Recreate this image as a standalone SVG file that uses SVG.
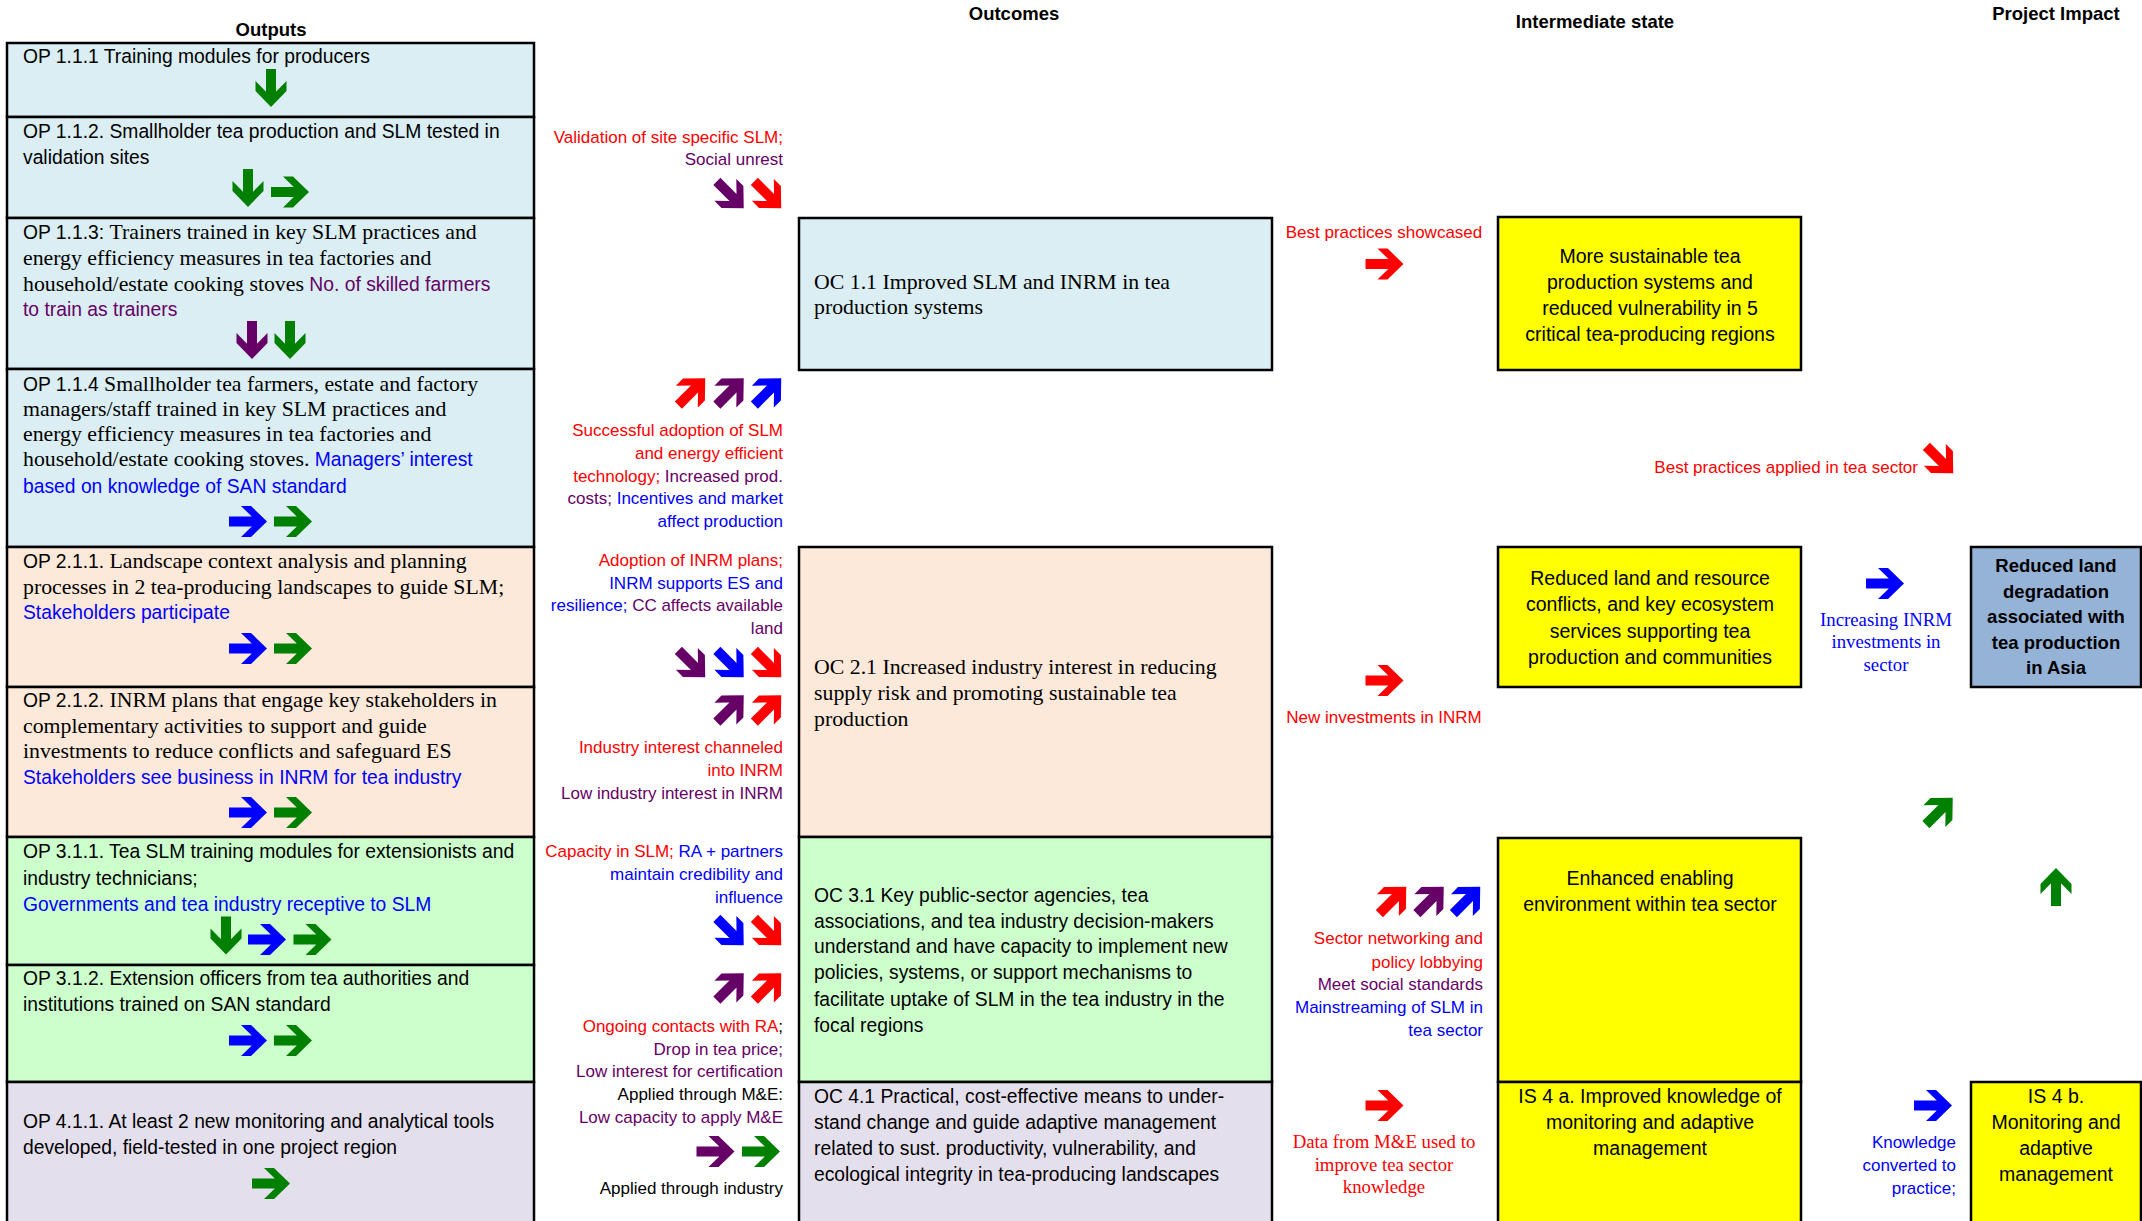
<svg xmlns="http://www.w3.org/2000/svg" xmlns:xlink="http://www.w3.org/1999/xlink" width="2142" height="1221" viewBox="0 0 2142 1221">
<style>
.bx{stroke:#000;stroke-width:2.5}
.c1{fill:#DAEEF3}.c2{fill:#FDE9D9}.c3{fill:#CCFFCC}.c4{fill:#E4DFEC}.cy{fill:#FFFF00}.ci{fill:#95B3D7}
text{font-family:"Liberation Sans",Arial,sans-serif;fill:#000}
.os{font-family:"Liberation Sans",Arial,sans-serif;font-size:19.3px}
.or{font-family:"Liberation Serif","Times New Roman",serif;font-size:21.8px}
.lb{font-family:"Liberation Sans",Arial,sans-serif;font-size:17px}
.ls{font-family:"Liberation Serif","Times New Roman",serif;font-size:18.8px}
.is{font-family:"Liberation Sans",Arial,sans-serif;font-size:19.5px}
.hd{font-family:"Liberation Sans",Arial,sans-serif;font-size:18.5px;font-weight:bold}
.e{text-anchor:end}.m{text-anchor:middle}
.r{fill:#FF0000}.p{fill:#660066}.b{fill:#0000FF}.k{fill:#000}.g{fill:#008000}
</style>
<defs>
<path id="ar" d="M-19,-5 H3.8 L-7,-15.5 H3 L19,0 L3,15.5 H-7 L3.8,5 H-19 Z"/>
</defs>

<g id="headers">
<text class="hd m" x="271" y="36">Outputs</text>
<text class="hd m" x="1014" y="20">Outcomes</text>
<text class="hd m" x="1595" y="28">Intermediate state</text>
<text class="hd m" x="2056" y="20">Project Impact</text>
</g>

<g id="op111"><rect class="bx c1" x="7" y="43" width="527" height="74"/>
<text x="23" y="63" class="os">OP 1.1.1 Training modules for producers</text></g>

<g id="op112"><rect class="bx c1" x="7" y="117" width="527" height="101"/>
<text x="23" y="138" class="os">OP 1.1.2. Smallholder tea production and SLM tested in</text>
<text x="23" y="164" class="os">validation sites</text></g>

<g id="op113"><rect class="bx c1" x="7" y="218" width="527" height="151"/>
<text x="23" y="239"><tspan class="os">OP 1.1.3: </tspan><tspan class="or">Trainers trained in key SLM practices and</tspan></text>
<text x="23" y="265" class="or">energy efficiency measures in tea factories and</text>
<text x="23" y="291"><tspan class="or">household/estate cooking stoves </tspan><tspan class="os p">No. of skilled farmers</tspan></text>
<text x="23" y="316" class="os p">to train as trainers</text></g>

<g id="op114"><rect class="bx c1" x="7" y="369" width="527" height="178"/>
<text x="23" y="391"><tspan class="os">OP 1.1.4 </tspan><tspan class="or">Smallholder tea farmers, estate and factory</tspan></text>
<text x="23" y="416" class="or">managers/staff trained in key SLM practices and</text>
<text x="23" y="441" class="or">energy efficiency measures in tea factories and</text>
<text x="23" y="466"><tspan class="or">household/estate cooking stoves.  </tspan><tspan class="os b">Managers’ interest</tspan></text>
<text x="23" y="493" class="os b">based on knowledge of SAN standard</text></g>

<g id="op211"><rect class="bx c2" x="7" y="547" width="527" height="140"/>
<text x="23" y="568"><tspan class="os">OP 2.1.1. </tspan><tspan class="or">Landscape context analysis and planning</tspan></text>
<text x="23" y="594" class="or">processes in 2 tea-producing landscapes to guide SLM;</text>
<text x="23" y="619" class="os b">Stakeholders participate</text></g>

<g id="op212"><rect class="bx c2" x="7" y="687" width="527" height="150"/>
<text x="23" y="707"><tspan class="os">OP 2.1.2. </tspan><tspan class="or">INRM plans that engage key stakeholders in</tspan></text>
<text x="23" y="733" class="or">complementary activities to support and guide</text>
<text x="23" y="758" class="or">investments to reduce conflicts and safeguard ES</text>
<text x="23" y="784" class="os b">Stakeholders see business in INRM for tea industry</text></g>

<g id="op311"><rect class="bx c3" x="7" y="837" width="527" height="128"/>
<text x="23" y="858" class="os">OP 3.1.1. Tea SLM training modules for extensionists and</text>
<text x="23" y="885" class="os">industry technicians;</text>
<text x="23" y="911" class="os b">Governments and tea industry receptive to SLM</text></g>

<g id="op312"><rect class="bx c3" x="7" y="965" width="527" height="117"/>
<text x="23" y="985" class="os">OP 3.1.2. Extension officers from tea authorities and</text>
<text x="23" y="1011" class="os">institutions trained on SAN standard</text></g>

<g id="op411"><rect class="bx c4" x="7" y="1082" width="527" height="150"/>
<text x="23" y="1128" class="os">OP 4.1.1. At least 2 new monitoring and analytical tools</text>
<text x="23" y="1154" class="os">developed, field-tested in one project region</text></g>

<g id="oc11"><rect class="bx c1" x="799" y="218" width="473" height="152"/>
<text x="814" y="289" class="or">OC 1.1 Improved SLM and INRM in tea</text>
<text x="814" y="314" class="or">production systems</text></g>

<g id="oc21"><rect class="bx c2" x="799" y="547" width="473" height="290"/>
<text x="814" y="674" class="or">OC 2.1 Increased industry interest in reducing</text>
<text x="814" y="700" class="or">supply risk and promoting sustainable tea</text>
<text x="814" y="726" class="or">production</text></g>

<g id="oc31"><rect class="bx c3" x="799" y="837" width="473" height="245"/>
<text x="814" y="902" class="os">OC 3.1 Key public-sector agencies, tea</text>
<text x="814" y="928" class="os">associations, and tea industry decision-makers</text>
<text x="814" y="953" class="os">understand and have capacity to implement new</text>
<text x="814" y="979" class="os">policies, systems, or support mechanisms to</text>
<text x="814" y="1006" class="os">facilitate uptake of SLM in the tea industry in the</text>
<text x="814" y="1032" class="os">focal regions</text></g>

<g id="oc41"><rect class="bx c4" x="799" y="1082" width="473" height="150"/>
<text x="814" y="1103" class="os">OC 4.1 Practical, cost-effective means to under-</text>
<text x="814" y="1129" class="os">stand change and guide adaptive management</text>
<text x="814" y="1155" class="os">related to sust. productivity, vulnerability, and</text>
<text x="814" y="1181" class="os">ecological integrity in tea-producing landscapes</text></g>

<g id="is1"><rect class="bx cy" x="1498" y="217" width="303" height="153"/>
<text class="is m" x="1650" y="263">More sustainable tea</text>
<text class="is m" x="1650" y="289">production systems and</text>
<text class="is m" x="1650" y="315">reduced vulnerability in 5</text>
<text class="is m" x="1650" y="341">critical tea-producing regions</text></g>

<g id="is2"><rect class="bx cy" x="1498" y="547" width="303" height="140"/>
<text class="is m" x="1650" y="585">Reduced land and resource</text>
<text class="is m" x="1650" y="611">conflicts, and key ecosystem</text>
<text class="is m" x="1650" y="638">services supporting tea</text>
<text class="is m" x="1650" y="664">production and communities</text></g>

<g id="is3"><rect class="bx cy" x="1498" y="838" width="303" height="244"/>
<text class="is m" x="1650" y="885">Enhanced enabling</text>
<text class="is m" x="1650" y="911">environment within tea sector</text></g>

<g id="is4a"><rect class="bx cy" x="1498" y="1082" width="303" height="150"/>
<text class="is m" x="1650" y="1103">IS 4 a. Improved knowledge of</text>
<text class="is m" x="1650" y="1129">monitoring and adaptive</text>
<text class="is m" x="1650" y="1155">management</text></g>

<g id="impact"><rect class="bx ci" x="1971" y="547" width="170" height="140"/>
<text class="hd m" x="2056" y="572">Reduced land</text>
<text class="hd m" x="2056" y="598">degradation</text>
<text class="hd m" x="2056" y="623">associated with</text>
<text class="hd m" x="2056" y="649">tea production</text>
<text class="hd m" x="2056" y="674">in Asia</text></g>

<g id="is4b"><rect class="bx cy" x="1971" y="1082" width="170" height="150"/>
<text class="is m" x="2056" y="1103">IS 4 b.</text>
<text class="is m" x="2056" y="1129">Monitoring and</text>
<text class="is m" x="2056" y="1155">adaptive</text>
<text class="is m" x="2056" y="1181">management</text></g>

<g id="labels">
<text class="lb e" x="783" y="143"><tspan class="r">Validation of site specific SLM;</tspan></text>
<text class="lb e p" x="783" y="165">Social unrest</text>
<text class="lb e r" x="783" y="436">Successful adoption of SLM</text>
<text class="lb e r" x="783" y="459">and energy efficient</text>
<text class="lb e" x="783" y="482"><tspan class="r">technology; </tspan><tspan class="p">Increased prod.</tspan></text>
<text class="lb e" x="783" y="504"><tspan class="p">costs; </tspan><tspan class="b">Incentives and market</tspan></text>
<text class="lb e b" x="783" y="527">affect production</text>
<text class="lb e r" x="783" y="566">Adoption of INRM plans;</text>
<text class="lb e b" x="783" y="589">INRM supports ES and</text>
<text class="lb e" x="783" y="611"><tspan class="b">resilience; </tspan><tspan class="p">CC affects available</tspan></text>
<text class="lb e p" x="783" y="634">land</text>
<text class="lb e r" x="783" y="753">Industry interest channeled</text>
<text class="lb e r" x="783" y="776">into INRM</text>
<text class="lb e p" x="783" y="799">Low industry interest in INRM</text>
<text class="lb e" x="783" y="857"><tspan class="r">Capacity in SLM; </tspan><tspan class="b">RA + partners</tspan></text>
<text class="lb e b" x="783" y="880">maintain credibility and</text>
<text class="lb e b" x="783" y="903">influence</text>
<text class="lb e" x="783" y="1032"><tspan class="r">Ongoing contacts with RA</tspan><tspan class="k">;</tspan></text>
<text class="lb e p" x="783" y="1055">Drop in tea price;</text>
<text class="lb e p" x="783" y="1077">Low interest for certification</text>
<text class="lb e k" x="783" y="1100">Applied through M&amp;E:</text>
<text class="lb e p" x="783" y="1123">Low capacity to apply M&amp;E</text>
<text class="lb e k" x="783" y="1194">Applied through industry</text>

<text class="lb m r" x="1384" y="238">Best practices showcased</text>
<text class="lb e r" x="1918" y="473">Best practices applied in tea sector</text>
<text class="lb m r" x="1384" y="723">New investments in INRM</text>
<text class="ls m b" x="1886" y="626">Increasing INRM</text>
<text class="ls m b" x="1886" y="648">investments in</text>
<text class="ls m b" x="1886" y="671">sector</text>
<text class="lb e r" x="1483" y="944">Sector networking and</text>
<text class="lb e r" x="1483" y="968">policy lobbying</text>
<text class="lb e p" x="1483" y="990">Meet social standards</text>
<text class="lb e b" x="1483" y="1013">Mainstreaming of SLM in</text>
<text class="lb e b" x="1483" y="1036">tea sector</text>
<text class="ls m r" x="1384" y="1148">Data from M&amp;E used to</text>
<text class="ls m r" x="1384" y="1171">improve tea sector</text>
<text class="ls m r" x="1384" y="1193">knowledge</text>
<text class="lb e b" x="1956" y="1148">Knowledge</text>
<text class="lb e b" x="1956" y="1171">converted to</text>
<text class="lb e b" x="1956" y="1194">practice;</text>
</g>

<g id="connectors">
<use href="#ar" class="g" transform="translate(271,88) rotate(90)"/>
<use href="#ar" class="g" transform="translate(248,188) rotate(90)"/>
<use href="#ar" class="g" transform="translate(290,192)"/>
<use href="#ar" class="p" transform="translate(252,340) rotate(90)"/>
<use href="#ar" class="g" transform="translate(290,340) rotate(90)"/>
<use href="#ar" class="b" transform="translate(248,521.5)"/>
<use href="#ar" class="g" transform="translate(293,521.5)"/>
<use href="#ar" class="b" transform="translate(248,648.5)"/>
<use href="#ar" class="g" transform="translate(293,648.5)"/>
<use href="#ar" class="b" transform="translate(248,812.5)"/>
<use href="#ar" class="g" transform="translate(293,812.5)"/>
<use href="#ar" class="g" transform="translate(226,935.5) rotate(90)"/>
<use href="#ar" class="b" transform="translate(267,939.5)"/>
<use href="#ar" class="g" transform="translate(312.5,939.5)"/>
<use href="#ar" class="b" transform="translate(248,1040.5)"/>
<use href="#ar" class="g" transform="translate(293,1040.5)"/>
<use href="#ar" class="g" transform="translate(271,1183.5)"/>

<use href="#ar" class="p" transform="translate(730.3,194.8) rotate(45)"/>
<use href="#ar" class="r" transform="translate(767.8,194.8) rotate(45)"/>
<use href="#ar" class="r" transform="translate(691.8,391.7) rotate(-45)"/>
<use href="#ar" class="p" transform="translate(730.3,391.7) rotate(-45)"/>
<use href="#ar" class="b" transform="translate(767.8,391.7) rotate(-45)"/>
<use href="#ar" class="p" transform="translate(691.8,663.8) rotate(45)"/>
<use href="#ar" class="b" transform="translate(730.3,663.8) rotate(45)"/>
<use href="#ar" class="r" transform="translate(767.8,663.8) rotate(45)"/>
<use href="#ar" class="p" transform="translate(730.3,708.7) rotate(-45)"/>
<use href="#ar" class="r" transform="translate(767.8,708.7) rotate(-45)"/>
<use href="#ar" class="b" transform="translate(730.3,931.8) rotate(45)"/>
<use href="#ar" class="r" transform="translate(767.8,931.8) rotate(45)"/>
<use href="#ar" class="p" transform="translate(730.3,986.7) rotate(-45)"/>
<use href="#ar" class="r" transform="translate(767.8,986.7) rotate(-45)"/>
<use href="#ar" class="p" transform="translate(715.5,1151.5)"/>
<use href="#ar" class="g" transform="translate(761,1151.5)"/>

<use href="#ar" class="r" transform="translate(1384.5,264)"/>
<use href="#ar" class="r" transform="translate(1384.5,680.5)"/>
<use href="#ar" class="r" transform="translate(1392.8,900.2) rotate(-45)"/>
<use href="#ar" class="p" transform="translate(1430.3,900.2) rotate(-45)"/>
<use href="#ar" class="b" transform="translate(1466.8,900.2) rotate(-45)"/>
<use href="#ar" class="r" transform="translate(1384.5,1105.5)"/>
<use href="#ar" class="b" transform="translate(1885,583.5)"/>
<use href="#ar" class="r" transform="translate(1939.8,459.8) rotate(45)"/>
<use href="#ar" class="g" transform="translate(1939.3,811.2) rotate(-45)"/>
<use href="#ar" class="g" transform="translate(2056,887) rotate(-90)"/>
<use href="#ar" class="b" transform="translate(1933,1105.5)"/>
</g>
</svg>
